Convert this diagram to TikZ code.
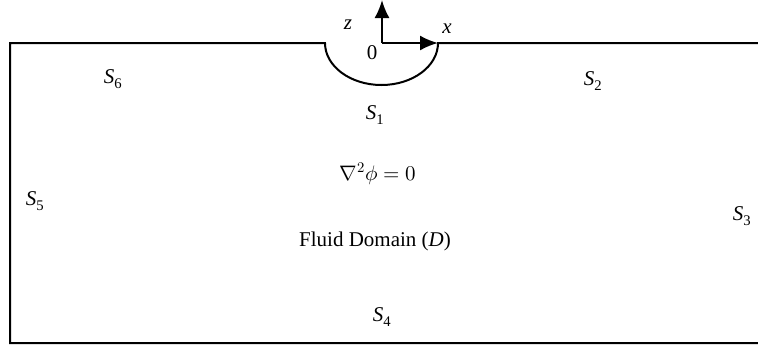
\documentclass[tikz,border=0pt]{standalone}
\usepackage{fontspec}
\usepackage{unicode-math}
\setmainfont{Liberation Serif}
\setmathfont{Latin Modern Math}
\usetikzlibrary{arrows.meta}
\tikzset{
  wall/.style={
    line width=2pt,
    draw=black,
    line join=miter
  },
  axis/.style={
    -{Latex[length=18pt,width=15pt]},
    line width=2pt,
    draw=black
  },
  lbl/.style={
    inner sep=0pt,
    font=\fontsize{21}{25}\selectfont
  }
}

\begin{document}
\begin{tikzpicture}[x=1pt,y=-1pt]
\useasboundingbox (0,0) rectangle (758,349);
% free surface, body and walls
\draw[wall] (758,43) -- (438,43)
  arc[start angle=0,end angle=-180,x radius=56.5pt,y radius=42pt]
  -- (10,43) -- (10,343) -- (758,343);
% axes
\coordinate (origin) at (382,43);
\coordinate (zend) at (382,0);
\coordinate (xend) at (438,43);
\draw[axis] (origin) -- (zend);
\draw[axis] (origin) -- (xend);
\node[lbl] (zlab) at (348,25) {\textit{z}};
\node[lbl] (xlab) at (447,29) {\textit{x}};
\node[lbl] (olab) at (372,53) {0};
% surfaces
\node[lbl] (s1) at (375,115) {\textit{S}\textsubscript{1}};
\node[lbl] (s2) at (593,81) {\textit{S}\textsubscript{2}};
\node[lbl] (s3) at (742,216) {\textit{S}\textsubscript{3}};
\node[lbl] (s4) at (382,317) {\textit{S}\textsubscript{4}};
\node[lbl] (s5) at (35,201) {\textit{S}\textsubscript{5}};
\node[lbl] (s6) at (113,79) {\textit{S}\textsubscript{6}};
% domain
\node[lbl] (laplace) at (378,174) {$\nabla^2\phi = 0$};
\node[lbl] (fluid) at (375,241) {Fluid Domain (\textit{D})};
\end{tikzpicture}
\end{document}
